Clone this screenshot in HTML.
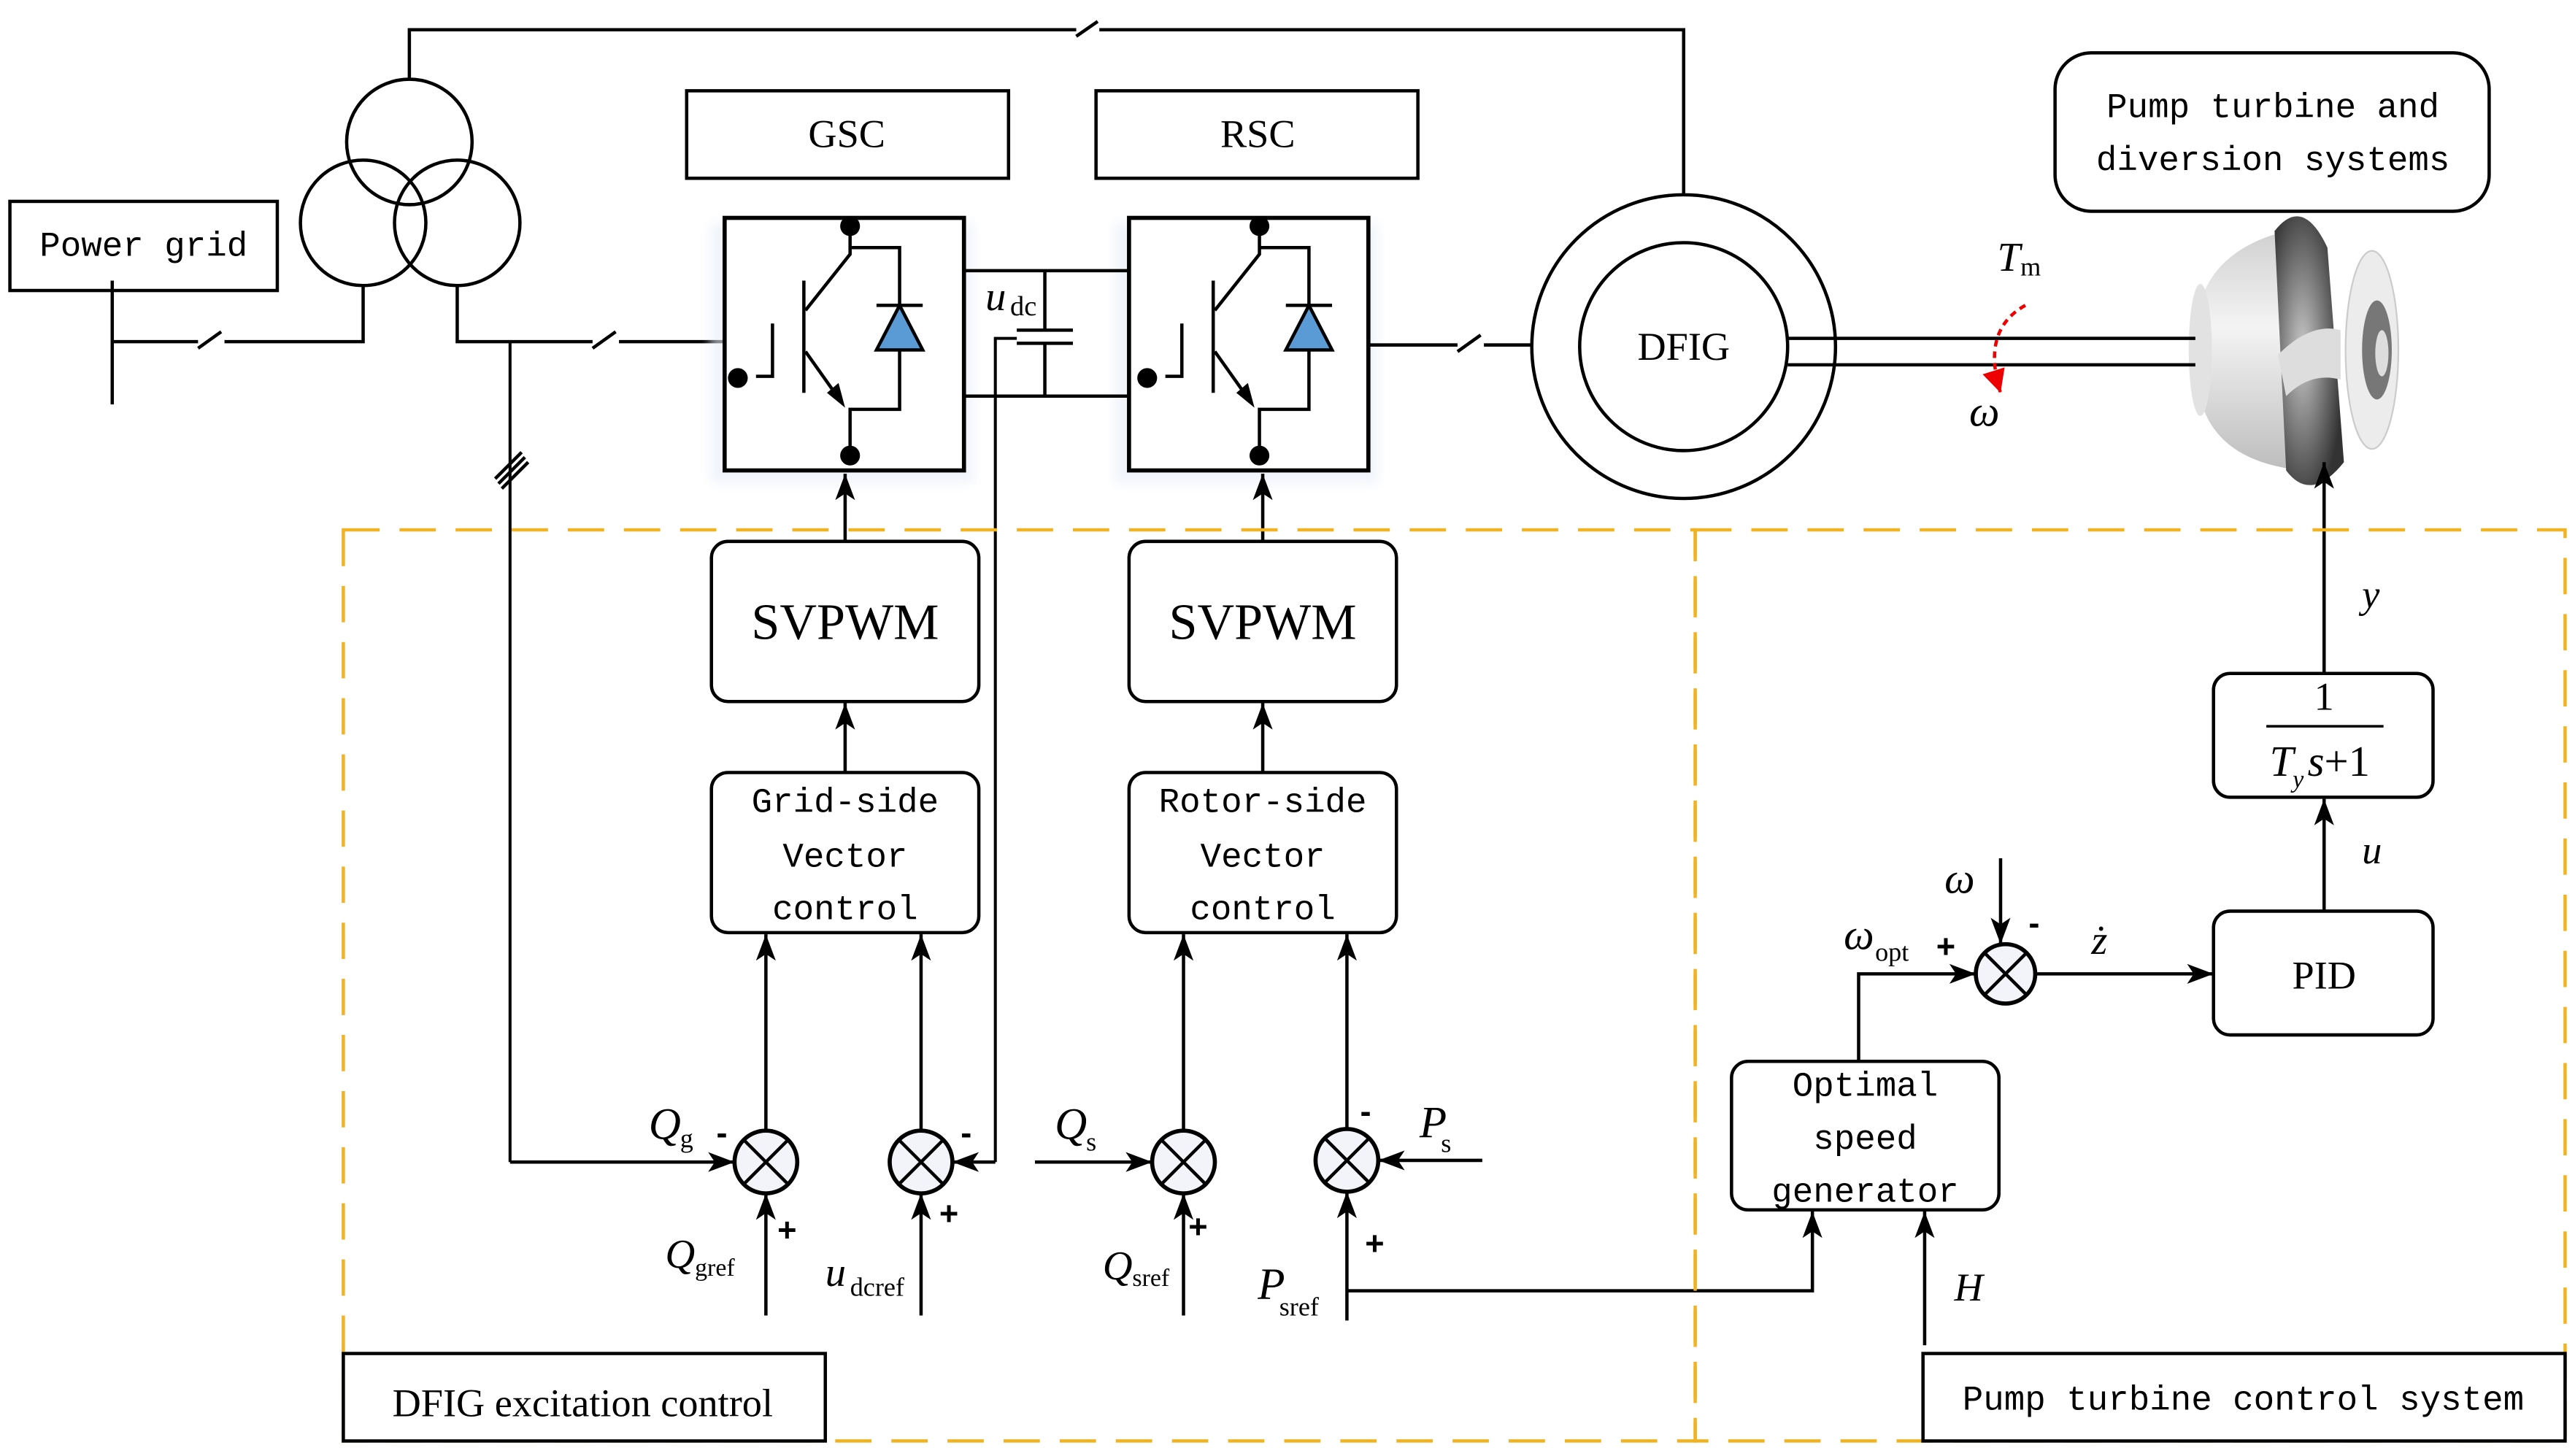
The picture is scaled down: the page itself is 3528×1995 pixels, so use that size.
<!DOCTYPE html>
<html><head><meta charset="utf-8"><style>
html,body{margin:0;padding:0;background:#fff;width:3528px;height:1995px;overflow:hidden}
svg{display:block}
.m{font-family:"Liberation Mono",monospace;}
.s{font-family:"Liberation Serif",serif;}
</style></head><body>
<svg width="3528" height="1995" viewBox="0 0 1560 882.1" preserveAspectRatio="none" xmlns="http://www.w3.org/2000/svg">
<defs>
<marker id="a" viewBox="0 0 16 12" refX="16" refY="6" markerWidth="16" markerHeight="12" markerUnits="userSpaceOnUse" orient="auto"><path d="M0,0 L16,6 L0,12 L4,6 z" fill="#000"/></marker>
<marker id="ar" viewBox="0 0 10 10" refX="10" refY="5" markerWidth="14" markerHeight="14" markerUnits="userSpaceOnUse" orient="auto"><path d="M0,0 L10,5 L0,10 z" fill="#e00"/></marker>
<linearGradient id="tg" x1="0" y1="0" x2="0" y2="1"><stop offset="0" stop-color="#d0d0d0"/><stop offset="0.4" stop-color="#f4f4f4"/><stop offset="1" stop-color="#bdbdbd"/></linearGradient>
<radialGradient id="dk" cx="0.4" cy="0.5" r="0.6"><stop offset="0" stop-color="#c8c8c8"/><stop offset="1" stop-color="#333"/></radialGradient>
<filter id="sh"><feGaussianBlur stdDeviation="3"/></filter>
</defs>
<!-- turbine (behind lines) -->
<g>
<path d="M1334,180 Q1345,150 1385,140 L1395,285 Q1345,280 1334,245 z" fill="url(#tg)"/>
<ellipse cx="1333" cy="212" rx="7" ry="40" fill="#e2e2e2"/>
<path d="M1378,140 Q1395,118 1410,150 L1420,280 Q1400,305 1385,285 z" fill="url(#dk)"/>
<path d="M1380,215 Q1400,195 1418,200 L1418,230 Q1400,225 1385,240 z" fill="#ddd"/>
<ellipse cx="1437" cy="212" rx="16" ry="60" fill="#ececec" stroke="#ccc"/>
<ellipse cx="1440" cy="212" rx="9" ry="30" fill="#777"/>
<ellipse cx="1443" cy="214" rx="4" ry="14" fill="#ddd"/>
</g>
<g fill="none" stroke="#000" stroke-width="2">
<polyline points="248,48 248,18 652,18"/>
<line x1="652" y1="22" x2="665" y2="13"/>
<polyline points="666,18 1020,18 1020,118"/>
<circle cx="248" cy="86" r="38"/><circle cx="220" cy="135" r="38"/><circle cx="277" cy="135" r="38"/>
<rect x="6" y="122" width="162" height="54"/>
<line x1="68" y1="170" x2="68" y2="245"/>
<polyline points="68,207 120,207"/><line x1="120" y1="211" x2="134" y2="201"/>
<polyline points="136,207 220,207 220,173"/>
<polyline points="277,173 277,207 359,207"/><line x1="359" y1="211" x2="373" y2="201"/>
<line x1="375" y1="207" x2="439" y2="207"/>
<polyline points="309,207 309,704" stroke-width="1.8"/>
<line x1="300" y1="290" x2="316" y2="274"/><line x1="302" y1="293" x2="318" y2="277"/><line x1="304" y1="296" x2="320" y2="280"/>
<line x1="309" y1="704" x2="445" y2="704" marker-end="url(#a)"/>
<rect x="416" y="55" width="195" height="53"/><rect x="664" y="55" width="195" height="53"/>
<rect x="430" y="135" width="160" height="158" fill="#e8eef8" stroke="none" filter="url(#sh)" opacity="0.6"/>
<rect x="675" y="135" width="160" height="158" fill="#e8eef8" stroke="none" filter="url(#sh)" opacity="0.6"/>
<rect x="439" y="132" width="145" height="153" fill="#fff" stroke-width="2.5"/>
<rect x="684" y="132" width="145" height="153" fill="#fff" stroke-width="2.5"/>
<line x1="584" y1="164" x2="684" y2="164"/><line x1="584" y1="240" x2="684" y2="240"/>
<polyline points="633,164 633,200"/><line x1="616" y1="200" x2="650" y2="200"/><line x1="616" y1="208" x2="650" y2="208"/><polyline points="633,208 633,240"/>
<polyline points="603,704 603,205 616,205" stroke-width="1.8"/>
<line x1="829" y1="209" x2="883" y2="209"/><line x1="883" y1="213" x2="897" y2="203"/><line x1="899" y1="209" x2="928" y2="209"/>
<circle cx="1020" cy="210" r="92"/><circle cx="1020" cy="210" r="63"/>
<line x1="1083" y1="205" x2="1330" y2="205"/><line x1="1083" y1="221" x2="1330" y2="221"/>
<path d="M1227,185 Q1200,200 1212,238" stroke="#e00" stroke-dasharray="4,3" marker-end="url(#ar)"/>
<rect x="1245" y="32" width="263" height="96" rx="22"/>
<rect x="431" y="328" width="162" height="97" rx="10"/><rect x="684" y="328" width="162" height="97" rx="10"/>
<rect x="431" y="468" width="162" height="97" rx="10"/><rect x="684" y="468" width="162" height="97" rx="10"/>
<line x1="512" y1="328" x2="512" y2="287" marker-end="url(#a)"/><line x1="765" y1="328" x2="765" y2="287" marker-end="url(#a)"/>
<line x1="512" y1="468" x2="512" y2="426" marker-end="url(#a)"/><line x1="765" y1="468" x2="765" y2="426" marker-end="url(#a)"/>
<line x1="464" y1="685" x2="464" y2="566" marker-end="url(#a)"/><line x1="558" y1="685" x2="558" y2="566" marker-end="url(#a)"/>
<line x1="717" y1="685" x2="717" y2="566" marker-end="url(#a)"/><line x1="816" y1="685" x2="816" y2="566" marker-end="url(#a)"/>
<line x1="464" y1="797" x2="464" y2="723" marker-end="url(#a)"/><line x1="558" y1="797" x2="558" y2="723" marker-end="url(#a)"/>
<line x1="717" y1="797" x2="717" y2="723" marker-end="url(#a)"/><line x1="816" y1="800" x2="816" y2="722" marker-end="url(#a)"/>
<line x1="603" y1="704" x2="577" y2="704" marker-end="url(#a)"/>
<line x1="627" y1="704" x2="698" y2="704" marker-end="url(#a)"/>
<line x1="898" y1="703" x2="835" y2="703" marker-end="url(#a)"/>
<polyline points="816,782 1098,782 1098,734" marker-end="url(#a)"/>
<line x1="1166" y1="815" x2="1166" y2="734" marker-end="url(#a)"/>
<g fill="#f2f4fa" stroke-width="2.5">
<circle cx="464" cy="704" r="19"/><circle cx="558" cy="704" r="19"/><circle cx="717" cy="704" r="19"/><circle cx="816" cy="703" r="19"/><circle cx="1215" cy="590" r="18"/>
</g>
<path d="M451,691 L477,717 M477,691 L451,717"/><path d="M545,691 L571,717 M571,691 L545,717"/>
<path d="M704,691 L730,717 M730,691 L704,717"/><path d="M803,690 L829,716 M829,690 L803,716"/>
<path d="M1202,577 L1228,603 M1228,577 L1202,603"/>
<rect x="1049" y="643" width="162" height="90" rx="10"/>
<polyline points="1126,643 1126,590 1197,590" marker-end="url(#a)"/>
<line x1="1212" y1="520" x2="1212" y2="572" marker-end="url(#a)"/>
<line x1="1233" y1="590" x2="1341" y2="590" marker-end="url(#a)"/>
<rect x="1341" y="552" width="133" height="75" rx="10"/>
<rect x="1341" y="408" width="133" height="75" rx="10"/>
<line x1="1408" y1="552" x2="1408" y2="484" marker-end="url(#a)"/>
<line x1="1408" y1="408" x2="1408" y2="280" marker-end="url(#a)"/>
<line x1="1373" y1="440" x2="1444" y2="440" stroke-width="1.5"/>
<g stroke="#f0b323" stroke-dasharray="22,12" stroke-width="2">
<rect x="208" y="321" width="819" height="552"/><rect x="1027" y="321" width="527" height="552"/>
</g>
<rect x="208" y="820" width="292" height="53" fill="#fff"/>
<rect x="1165" y="820" width="389" height="53" fill="#fff"/>
</g>
<g fill="none" stroke="#000" stroke-width="2">
<line x1="487" y1="170" x2="487" y2="238"/>
<polyline points="458,228 468,228 468,196"/>
<polyline points="515,138 515,154 488,188"/>
<polyline points="488,213 510,244"/>
<polyline points="515,276 515,248 545,248 545,150 515,150"/>
<path d="M531,212 L559,212 L545,185 z" fill="#5b9bd5"/>
<line x1="531" y1="185" x2="559" y2="185"/>
</g>
<g fill="#000">
<path d="M512,247 L501,238 L508,232 z"/>
<ellipse cx="515" cy="137" rx="6" ry="6"/><ellipse cx="515" cy="276" rx="6" ry="6"/><ellipse cx="447" cy="229" rx="6" ry="6"/>
</g>
<g transform="translate(248,0)">
<g fill="none" stroke="#000" stroke-width="2">
<line x1="487" y1="170" x2="487" y2="238"/>
<polyline points="458,228 468,228 468,196"/>
<polyline points="515,138 515,154 488,188"/>
<polyline points="488,213 510,244"/>
<polyline points="515,276 515,248 545,248 545,150 515,150"/>
<path d="M531,212 L559,212 L545,185 z" fill="#5b9bd5"/>
<line x1="531" y1="185" x2="559" y2="185"/>
</g>
<g fill="#000">
<path d="M512,247 L501,238 L508,232 z"/>
<ellipse cx="515" cy="137" rx="6" ry="6"/><ellipse cx="515" cy="276" rx="6" ry="6"/><ellipse cx="447" cy="229" rx="6" ry="6"/>
</g></g>
<g class="m" font-size="21" fill="#000">
<text x="87" y="155" text-anchor="middle">Power grid</text>
<text x="1377" y="71" text-anchor="middle">Pump turbine and</text>
<text x="1377" y="103" text-anchor="middle">diversion systems</text>
<text x="512" y="492" text-anchor="middle">Grid-side</text>
<text x="512" y="525" text-anchor="middle">Vector</text>
<text x="512" y="557" text-anchor="middle">control</text>
<text x="765" y="492" text-anchor="middle">Rotor-side</text>
<text x="765" y="525" text-anchor="middle">Vector</text>
<text x="765" y="557" text-anchor="middle">control</text>
<text x="1130" y="664" text-anchor="middle">Optimal</text>
<text x="1130" y="696" text-anchor="middle">speed</text>
<text x="1130" y="728" text-anchor="middle">generator</text>
<text x="1359" y="854" text-anchor="middle">Pump turbine control system</text>
</g>
<g class="s" fill="#000">
<text x="513" y="89" font-size="24" text-anchor="middle">GSC</text>
<text x="762" y="89" font-size="24" text-anchor="middle">RSC</text>
<text x="1020" y="218" font-size="24" text-anchor="middle">DFIG</text>
<text x="512" y="387" font-size="31" text-anchor="middle">SVPWM</text>
<text x="765" y="387" font-size="31" text-anchor="middle">SVPWM</text>
<text x="1408" y="599" font-size="24" text-anchor="middle">PID</text>
<text x="1408" y="430" font-size="24" text-anchor="middle">1</text>
<text x="1375" y="470" font-size="26" font-style="italic">T</text><text x="1389" y="477" font-size="15" font-style="italic">y</text><text x="1398" y="470" font-size="26"><tspan font-style="italic">s</tspan>+1</text>
<text x="353" y="858" font-size="24" text-anchor="middle">DFIG excitation control</text>
<text x="597" y="188" font-size="25" font-style="italic">u</text><text x="612" y="191" font-size="17">dc</text>
<text x="1210" y="164" font-size="25" font-style="italic">T</text><text x="1224" y="167" font-size="16">m</text>
<text x="1193" y="258" font-size="26" font-style="italic">ω</text>
<text x="1178" y="541" font-size="26" font-style="italic">ω</text>
<text x="1117" y="575" font-size="26" font-style="italic">ω</text><text x="1136" y="582" font-size="16">opt</text>
<text x="1267" y="578" font-size="25" font-style="italic">ż</text>
<text x="1431" y="523" font-size="24" font-style="italic">u</text>
<text x="1431" y="368" font-size="24" font-style="italic">y</text>
<text x="1184" y="788" font-size="24" font-style="italic">H</text>
<text x="393" y="690" font-size="27" font-style="italic">Q</text><text x="412" y="695" font-size="16">g</text>
<text x="403" y="768" font-size="25" font-style="italic">Q</text><text x="421" y="773" font-size="15">gref</text>
<text x="500" y="779" font-size="25" font-style="italic">u</text><text x="515" y="785" font-size="16">dcref</text>
<text x="639" y="690" font-size="27" font-style="italic">Q</text><text x="658" y="697" font-size="16">s</text>
<text x="668" y="775" font-size="25" font-style="italic">Q</text><text x="686" y="779" font-size="15">sref</text>
<text x="762" y="787" font-size="27" font-style="italic">P</text><text x="775" y="797" font-size="16">sref</text>
<text x="860" y="689" font-size="27" font-style="italic">P</text><text x="873" y="698" font-size="16">s</text>
</g>
<g font-family="Liberation Sans,sans-serif" font-weight="bold" font-size="20" fill="#000">
<text x="434" y="693">-</text><text x="471" y="752">+</text>
<text x="582" y="693">-</text><text x="569" y="742">+</text>
<text x="720" y="750">+</text>
<text x="824" y="680">-</text><text x="827" y="760">+</text>
<text x="1173" y="580">+</text><text x="1229" y="566">-</text>
</g>
</svg>
</body></html>
